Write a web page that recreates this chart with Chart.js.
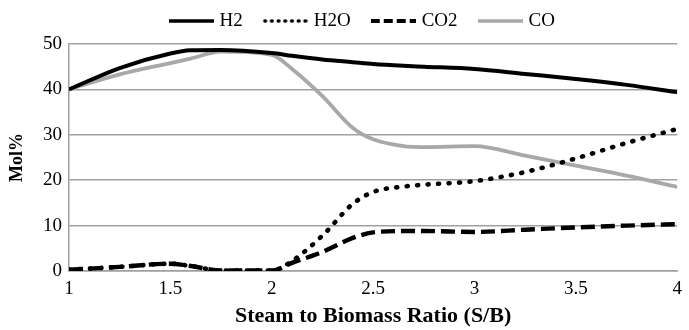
<!DOCTYPE html>
<html><head><meta charset="utf-8">
<script src="https://cdn.jsdelivr.net/npm/chart.js@4"></script>
<style>html,body{margin:0;padding:0;background:#fff;}#wrap{width:689px;height:330px;}</style>
</head><body><div id="wrap"><canvas id="c" width="689" height="330"></canvas></div>
<script>
const ratios = [1, 1.25, 1.5, 1.6, 1.75, 2, 2.1, 2.25, 2.4, 2.5, 2.65, 2.75, 3, 3.25, 3.5, 3.75, 4];
const h2  = [40, 44.7, 47.9, 48.6, 48.7, 48, 47.4, 46.6, 46, 45.6, 45.2, 45, 44.5, 43.4, 42.3, 41, 39.4];
const h2o = [0.3, 0.9, 1.6, 1.1, 0.1, 0.1, 2.2, 7.8, 14.8, 17.4, 18.6, 19, 19.8, 21.8, 24.8, 28.2, 31.3];
const co2 = [0.3, 0.9, 1.6, 1.1, 0.1, 0.1, 1.8, 4.2, 7.3, 8.5, 8.8, 8.8, 8.6, 9.1, 9.6, 10, 10.3];
const co  = [40, 43.3, 45.8, 46.8, 48.3, 47.6, 44.5, 38.5, 31.5, 29, 27.5, 27.3, 27.5, 25.4, 23.2, 21, 18.5];
const seriesNames = ['H2', 'H2O', 'CO2', 'CO'];
const xTicks = [1, 1.5, 2, 2.5, 3, 3.5, 4];
const yTicks = [0, 10, 20, 30, 40, 50];

const pts = arr => arr.map((v, i) => ({x: ratios[i], y: v}));
const serif = "'Liberation Serif', 'Times New Roman', serif";

function legendLine(color, width, dash, cap) {
  const c = document.createElement('canvas');
  c.width = 45; c.height = 8;
  const g = c.getContext('2d');
  g.strokeStyle = color; g.lineWidth = width; g.lineCap = cap || 'butt';
  g.setLineDash(dash);
  g.beginPath(); g.moveTo(cap === 'round' ? 2 : 0, 4); g.lineTo(45, 4); g.stroke();
  return c;
}

const legendFit = {
  id: 'legendFit',
  beforeLayout(chart) {
    const lg = chart.legend;
    if (lg && !lg._fitWrapped) {
      const f = lg.fit;
      lg.fit = function () { f.call(this); this.height = 56; };
      lg._fitWrapped = true;
    }
  },
  afterLayout(chart) {
    const lg = chart.legend;
    if (lg) { lg.left += 19; lg.right += 19; }
  }
};

new Chart(document.getElementById('c'), {
  type: 'line',
  plugins: [legendFit],
  data: {
    datasets: [
      {label: seriesNames[0], data: pts(h2), borderColor: '#000', backgroundColor: '#000', borderWidth: 4,
       pointStyle: legendLine('#000', 3.5, [])},
      {label: seriesNames[1], data: pts(h2o), borderColor: '#000', backgroundColor: '#000', borderWidth: 4.6,
       borderDash: [1, 9.5], borderCapStyle: 'round', pointStyle: legendLine('#000', 3.4, [0.8, 5.9], 'round')},
      {label: seriesNames[2], data: pts(co2), borderColor: '#000', backgroundColor: '#000', borderWidth: 4.4,
       borderDash: [14, 6], pointStyle: legendLine('#000', 4, [9, 4])},
      {label: seriesNames[3], data: pts(co), borderColor: '#a8a8a8', backgroundColor: '#a8a8a8', borderWidth: 3.8,
       pointStyle: legendLine('#a8a8a8', 3.5, [])}
    ]
  },
  options: {
    responsive: false,
    animation: false,
    layout: {padding: {left: 0, right: 0, top: -12, bottom: 0}},
    elements: {point: {radius: 0, hoverRadius: 0}, line: {cubicInterpolationMode: 'monotone'}},
    plugins: {
      legend: {
        position: 'top',
        labels: {
          usePointStyle: true, pointStyleWidth: 38, boxWidth: 38, boxHeight: 8,
          color: '#000', padding: 23.5,
          font: {family: serif, size: 19}
        }
      },
      tooltip: {enabled: false}
    },
    scales: {
      x: {
        type: 'linear', min: 1, max: 4,
        afterBuildTicks: s => { s.ticks = xTicks.map(v => ({value: v})); },
        ticks: {color: '#000', font: {family: serif, size: 19}, padding: 7, maxRotation: 0, callback: v => String(v)},
        grid: {display: false, drawTicks: false},
        border: {color: '#a0a0a0', width: 1.5},
        title: {display: true, text: 'Steam to Biomass Ratio (S/B)', color: '#000', font: {family: serif, size: 22, weight: 'bold'}, padding: {top: 2, bottom: 0}},
        afterFit: s => { s.height = 59; }
      },
      y: {
        min: 0, max: 50,
        afterBuildTicks: s => { s.ticks = yTicks.map(v => ({value: v})); },
        ticks: {color: '#000', font: {family: serif, size: 19}, padding: 7},
        grid: {color: '#a0a0a0', lineWidth: 1.5, drawTicks: false},
        border: {color: '#a0a0a0', width: 1.5},
        title: {display: true, text: 'Mol%', color: '#000', font: {family: serif, size: 18, weight: 'bold'}, padding: {top: 7, bottom: 0}},
        afterFit: s => { s.width = 69; }
      }
    }
  }
});
</script></body></html>
